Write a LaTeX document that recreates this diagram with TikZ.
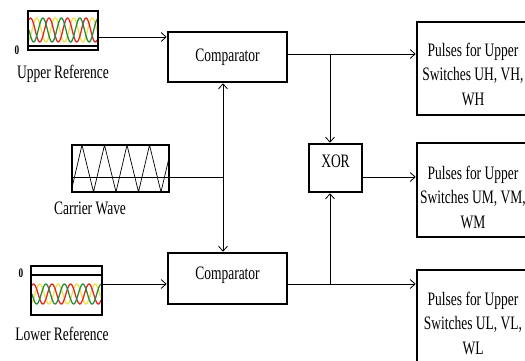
\documentclass[tikz,border=0pt]{standalone}
\usepackage{fontspec}
\setmainfont{Liberation Serif}[FakeStretch=0.71]
\usetikzlibrary{arrows.meta,calc}
\definecolor{wred}{RGB}{225,40,40}
\definecolor{wyel}{RGB}{240,225,70}
\definecolor{wgrn}{RGB}{40,140,60}
\begin{document}
\begin{tikzpicture}[x=1pt,y=-1pt,
  blk/.style={draw=black,line width=2.6pt,fill=white,inner sep=0pt},
  scopebox/.style={draw=black,line width=2.4pt,inner sep=0pt},
  wire/.style={line width=0.8pt},
  conn/.style={line width=0.8pt,-{Straight Barb[length=5pt,width=9pt]}},
  lbl/.style={font=\fontsize{19}{22}\selectfont,inner sep=0pt},
  ptxt/.style={font=\fontsize{19}{24.5}\selectfont,inner sep=0pt,align=center},
  zero/.style={font=\bfseries\fontsize{13}{14}\selectfont,inner sep=0pt},
  wave/.style={line width=1.3pt,samples=90}
]
\useasboundingbox (0,0) rectangle (525,360);
\clip (0,0) rectangle (525,360);

% ---- upper reference scope ----
\node[scopebox,minimum width=70,minimum height=39] (ur) at (63,30.5) {};
\begin{scope}
  \clip (29,12) rectangle (97,49);
  \draw[wave,wyel] plot[domain=0:68] ({29+\x},{30+12*sin(19.46*\x+120)});
  \draw[wave,wred] plot[domain=0:68] ({29+\x},{30+12*sin(19.46*\x+240)});
  \draw[wave,wgrn] plot[domain=0:68] ({29+\x},{30+12*sin(19.46*\x)});
\end{scope}
\draw[line width=1.8pt] (ur.west |- 0,46) -- (ur.east |- 0,46);
\node[zero] (z1) at (17,50) {0};
\node[lbl] (urlbl) at (63,74) {Upper Reference};

% ---- carrier scope ----
\node[scopebox,minimum width=97,minimum height=47] (cw) at (120.5,168.5) {};
\begin{scope}
  \clip (72,145) rectangle (169,192);
  \draw[line width=0.7pt] (71,192) -- (82,145) -- (93.5,192) -- (104.5,145) -- (116,192)
     -- (127,145) -- (138.5,192) -- (149.5,145) -- (161,192) -- (172,145);
\end{scope}
\draw[wire] (cw.west |- 0,177) -- (cw.east |- 0,177);
\node[lbl] (cwlbl) at (90,208) {Carrier Wave};

% ---- lower reference scope ----
\node[scopebox,minimum width=71,minimum height=49] (lr) at (66.5,290.5) {};
\begin{scope}
  \clip (32,277) rectangle (101,314);
  \draw[wave,wyel] plot[domain=0:69] ({32+\x},{294+10*sin(19.46*\x+120)});
  \draw[wave,wred] plot[domain=0:69] ({32+\x},{294+10*sin(19.46*\x+240)});
  \draw[wave,wgrn] plot[domain=0:69] ({32+\x},{294+10*sin(19.46*\x)});
\end{scope}
\draw[line width=1.8pt] (lr.west |- 0,275) -- (lr.east |- 0,275);
\node[zero] (z2) at (21,273) {0};
\node[lbl] (lrlbl) at (62,334) {Lower Reference};

% ---- comparators and XOR ----
\node[blk,lbl,minimum width=119,minimum height=50] (cu) at (227.5,57) {Comparator};
\node[blk,lbl,minimum width=119,minimum height=51,text depth=10pt] (cl) at (227.5,278.5) {Comparator};
\node[blk,lbl,minimum width=53,minimum height=48,text depth=14pt] (xr) at (335.5,168) {XOR};

% ---- pulse output boxes ----
\node[blk,minimum width=130,minimum height=93] (p1) at (482,68.5) {};
\node[ptxt] (p1t) at (473,74) {Pulses for Upper\\Switches UH, VH,\\WH};
\node[blk,minimum width=130,minimum height=94] (p2) at (482,190) {};
\node[ptxt] (p2t) at (473,197) {Pulses for Upper\\Switches UM, VM,\\WM};
\node[blk,minimum width=130,minimum height=94] (p3) at (482,317) {};
\node[ptxt] (p3t) at (473,323) {Pulses for Upper\\Switches UL, VL,\\WL};

% ---- connectors ----
\coordinate (inU) at (0,37);
\coordinate (inL) at (0,284);
\coordinate (jc) at (223,177);
\coordinate (tapU) at (330,54);
\coordinate (tapL) at (330,284);
\draw[conn] (ur.east |- inU) -- (cu.west |- inU);
\draw[conn] (lr.east |- inL) -- (cl.west |- inL);
\draw[wire] (cw.east |- jc) -- (jc);
\draw[conn] (jc) -- (jc |- cu.south);
\draw[conn] (jc) -- (jc |- cl.north);
\draw[conn] (cu.east |- tapU) -- (p1.west |- tapU);
\draw[conn] (cl.east |- tapL) -- (p3.west |- tapL);
\draw[conn] (tapU) -- (tapU |- xr.north);
\draw[conn] (tapL) -- (tapL |- xr.south);
\draw[conn] (xr.east |- jc) -- (p2.west |- jc);
\end{tikzpicture}
\end{document}
